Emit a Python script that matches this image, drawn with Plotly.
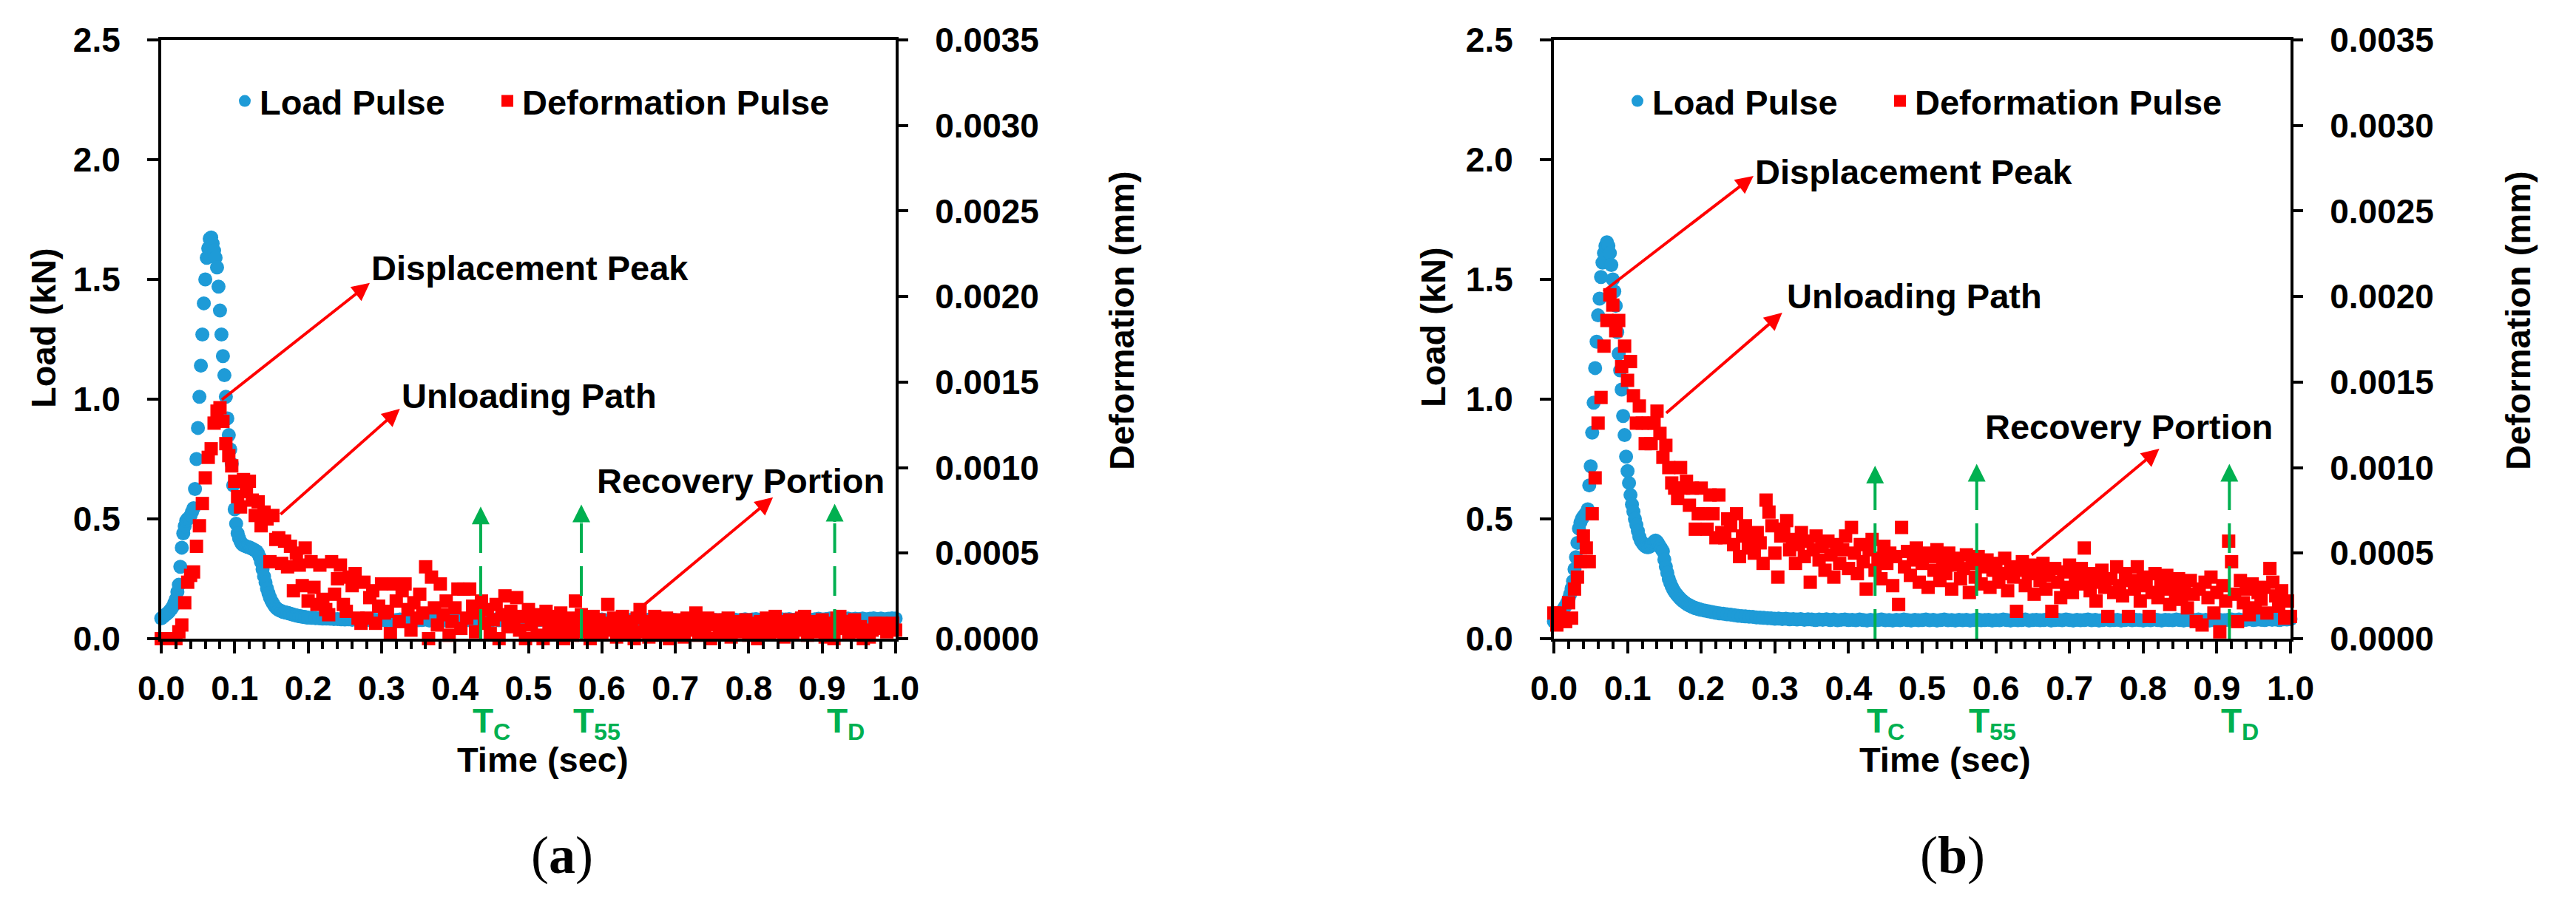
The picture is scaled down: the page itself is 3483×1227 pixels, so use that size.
import plotly.graph_objects as go

# ---------------- data ----------------
TIME_LOAD_MS = [
    0, 2, 4, 6, 8, 10, 12, 14, 16, 18, 20, 22, 24, 26, 28, 30, 32, 34, 36, 38,
    40, 42, 44, 46, 48, 50, 52, 54, 56, 58, 60, 62, 64, 66, 68, 70, 72, 74, 76, 78,
    80, 82, 84, 86, 88, 90, 92, 94, 96, 98, 100, 102, 104, 106, 108, 110, 112, 114, 116, 118,
    120, 122, 124, 126, 128, 130, 132, 134, 136, 138, 140, 142, 144, 146, 148, 150, 152, 154, 156, 158,
    160, 162, 164, 166, 168, 170, 172, 174, 176, 178, 180, 182, 184, 186, 188, 190, 192, 194, 196, 198, 200,
    205, 210, 215, 220, 225, 230, 235, 240, 245, 250, 255, 260, 265, 270, 275, 280, 285, 290, 295, 300,
    305, 310, 315, 320, 325, 330, 335, 340, 345, 350, 355, 360, 365, 370, 375, 380, 385, 390, 395, 400,
    405, 410, 415, 420, 425, 430, 435, 440, 445, 450, 455, 460, 465, 470, 475, 480, 485, 490, 495, 500,
    505, 510, 515, 520, 525, 530, 535, 540, 545, 550, 555, 560, 565, 570, 575, 580, 585, 590, 595, 600,
    605, 610, 615, 620, 625, 630, 635, 640, 645, 650, 655, 660, 665, 670, 675, 680, 685, 690, 695, 700,
    705, 710, 715, 720, 725, 730, 735, 740, 745, 750, 755, 760, 765, 770, 775, 780, 785, 790, 795, 800,
    805, 810, 815, 820, 825, 830, 835, 840, 845, 850, 855, 860, 865, 870, 875, 880, 885, 890, 895, 900,
    905, 910, 915, 920, 925, 930, 935, 940, 945, 950, 955, 960, 965, 970, 975, 980, 985, 990, 995, 1000,
]

TIME_DEF_MS = [
    0, 4, 8, 12, 16, 20, 24, 28, 32, 36, 40, 44, 48, 52, 56, 60, 64, 68, 72, 76,
    80, 84, 88, 92, 96, 100, 104, 108, 112, 116, 120, 124, 128, 132, 136, 140, 144, 148, 152, 156,
    160, 164, 168, 172, 176, 180, 184, 188, 192, 196, 200, 204, 208, 212, 216, 220, 224, 228, 232, 236,
    240, 244, 248, 252, 256, 260, 264, 268, 272, 276, 280, 284, 288, 292, 296, 300, 304, 308, 312, 316,
    320, 324, 328, 332, 336, 340, 344, 348, 352, 356, 360, 364, 368, 372, 376, 380, 384, 388, 392, 396,
    400, 404, 408, 412, 416, 420, 424, 428, 432, 436, 440, 444, 448, 452, 456, 460, 464, 468, 472, 476,
    480, 484, 488, 492, 496, 500, 504, 508, 512, 516, 520, 524, 528, 532, 536, 540, 544, 548, 552, 556,
    560, 564, 568, 572, 576, 580, 584, 588, 592, 596, 600, 604, 608, 612, 616, 620, 624, 628, 632, 636,
    640, 644, 648, 652, 656, 660, 664, 668, 672, 676, 680, 684, 688, 692, 696, 700, 704, 708, 712, 716,
    720, 724, 728, 732, 736, 740, 744, 748, 752, 756, 760, 764, 768, 772, 776, 780, 784, 788, 792, 796,
    800, 804, 808, 812, 816, 820, 824, 828, 832, 836, 840, 844, 848, 852, 856, 860, 864, 868, 872, 876,
    880, 884, 888, 892, 896, 900, 904, 908, 912, 916, 920, 924, 928, 932, 936, 940, 944, 948, 952, 956,
    960, 964, 968, 972, 976, 980, 984, 988, 992, 996, 1000,
]

# Load pulse (kN), panel (a)
LOAD_A_KN = [
    0.085, 0.090, 0.095, 0.100, 0.105, 0.110, 0.118, 0.125, 0.135, 0.150,
    0.165, 0.195, 0.225, 0.300, 0.380, 0.440, 0.470, 0.492, 0.500, 0.505,
    0.515, 0.530, 0.545, 0.625, 0.750, 0.880, 1.010, 1.140, 1.270, 1.400,
    1.500, 1.590, 1.630, 1.670, 1.675, 1.650, 1.620, 1.590, 1.550, 1.470,
    1.370, 1.270, 1.180, 1.100, 1.010, 0.920, 0.850, 0.790, 0.730, 0.640,
    0.540, 0.480, 0.440, 0.420, 0.405, 0.395, 0.390, 0.387, 0.385, 0.383,
    0.381, 0.378, 0.375, 0.372, 0.368, 0.364, 0.355, 0.340, 0.320, 0.290,
    0.260, 0.235, 0.210, 0.190, 0.172, 0.158, 0.148, 0.138, 0.130, 0.124,
    0.120, 0.117, 0.115, 0.112, 0.110, 0.109, 0.108, 0.106, 0.104, 0.102,
    0.100, 0.098, 0.097, 0.095, 0.094, 0.093, 0.092, 0.091, 0.090, 0.089,
    0.088,
    0.087, 0.086, 0.085, 0.084, 0.084, 0.083, 0.082, 0.082, 0.081, 0.080,
    0.081, 0.079, 0.080, 0.078, 0.080, 0.079, 0.077, 0.079, 0.078, 0.080,
    0.077, 0.079, 0.076, 0.078, 0.080, 0.077, 0.078, 0.076, 0.079, 0.077,
    0.078, 0.080, 0.076, 0.078, 0.077, 0.079, 0.076, 0.078, 0.080, 0.077,
    0.079, 0.076, 0.078, 0.077, 0.080, 0.078, 0.076, 0.079, 0.077, 0.078,
    0.080, 0.077, 0.079, 0.076, 0.078, 0.079, 0.077, 0.080, 0.078, 0.076,
    0.079, 0.077, 0.078, 0.080, 0.076, 0.078, 0.079, 0.077, 0.080, 0.078,
    0.076, 0.079, 0.077, 0.078, 0.080, 0.077, 0.079, 0.076, 0.078, 0.080,
    0.077, 0.078, 0.079, 0.076, 0.078, 0.080, 0.077, 0.079, 0.078, 0.076,
    0.079, 0.077, 0.080, 0.078, 0.076, 0.079, 0.078, 0.077, 0.080, 0.078,
    0.076, 0.079, 0.077, 0.078, 0.080, 0.077, 0.079, 0.076, 0.078, 0.080,
    0.078, 0.077, 0.079, 0.081, 0.078, 0.080, 0.077, 0.079, 0.081, 0.078,
    0.080, 0.082, 0.079, 0.081, 0.078, 0.080, 0.082, 0.079, 0.081, 0.080,
    0.082, 0.079, 0.081, 0.083, 0.080, 0.082, 0.079, 0.081, 0.083, 0.080,
    0.082, 0.084, 0.081, 0.083, 0.080, 0.082, 0.084, 0.081, 0.083, 0.082,
    0.084, 0.081, 0.083, 0.085, 0.082, 0.084, 0.081, 0.083, 0.085, 0.084,
]

# Load pulse (kN), panel (b)
LOAD_B_KN = [
    0.072, 0.080, 0.088, 0.095, 0.102, 0.110, 0.118, 0.128, 0.138, 0.150,
    0.165, 0.185, 0.210, 0.240, 0.290, 0.340, 0.400, 0.460, 0.485, 0.500,
    0.510, 0.518, 0.525, 0.540, 0.640, 0.720, 0.860, 0.985, 1.130, 1.240,
    1.350, 1.420, 1.510, 1.570, 1.610, 1.640, 1.655, 1.640, 1.610, 1.560,
    1.500, 1.450, 1.390, 1.280, 1.190, 1.120, 1.040, 0.930, 0.850, 0.760,
    0.700, 0.650, 0.600, 0.560, 0.530, 0.500, 0.475, 0.450, 0.425, 0.410,
    0.400, 0.392, 0.386, 0.383, 0.382, 0.384, 0.390, 0.398, 0.405, 0.410,
    0.405, 0.395, 0.385, 0.375, 0.365, 0.330, 0.300, 0.275, 0.250, 0.232,
    0.218, 0.205, 0.195, 0.187, 0.180, 0.172, 0.166, 0.160, 0.155, 0.150,
    0.146, 0.142, 0.139, 0.136, 0.133, 0.130, 0.128, 0.126, 0.124, 0.122,
    0.120,
    0.117, 0.114, 0.111, 0.108, 0.106, 0.104, 0.102, 0.100, 0.098, 0.096,
    0.094, 0.093, 0.092, 0.091, 0.089, 0.088, 0.087, 0.086, 0.085, 0.083,
    0.084, 0.082, 0.083, 0.081, 0.082, 0.080, 0.082, 0.079, 0.081, 0.080,
    0.078, 0.080, 0.079, 0.081, 0.078, 0.080, 0.077, 0.079, 0.080, 0.078,
    0.079, 0.077, 0.080, 0.078, 0.076, 0.079, 0.077, 0.078, 0.080, 0.077,
    0.078, 0.076, 0.079, 0.077, 0.080, 0.078, 0.076, 0.079, 0.077, 0.078,
    0.080, 0.077, 0.079, 0.076, 0.078, 0.080, 0.077, 0.078, 0.076, 0.079,
    0.077, 0.079, 0.076, 0.078, 0.080, 0.077, 0.078, 0.079, 0.076, 0.078,
    0.077, 0.080, 0.078, 0.076, 0.079, 0.077, 0.078, 0.080, 0.076, 0.078,
    0.079, 0.077, 0.078, 0.080, 0.076, 0.078, 0.079, 0.077, 0.080, 0.078,
    0.076, 0.079, 0.077, 0.078, 0.080, 0.077, 0.079, 0.076, 0.078, 0.080,
    0.077, 0.078, 0.079, 0.076, 0.078, 0.080, 0.077, 0.079, 0.078, 0.076,
    0.079, 0.077, 0.080, 0.078, 0.076, 0.079, 0.078, 0.077, 0.080, 0.078,
    0.076, 0.079, 0.077, 0.078, 0.080, 0.077, 0.079, 0.076, 0.078, 0.080,
    0.078, 0.077, 0.079, 0.080, 0.078, 0.080, 0.077, 0.079, 0.081, 0.078,
    0.080, 0.079, 0.078, 0.081, 0.079, 0.080, 0.078, 0.081, 0.080, 0.082,
]

# Deformation pulse (micrometres), panel (a)
DEF_A_UM = [
    0.00, 0.00, 0.00, 0.00, 0.00, 0.00, 0.04, 0.08, 0.21, 0.33,
    0.37, 0.39, 0.54, 0.66, 0.79, 0.94, 1.06, 1.11, 1.26, 1.33,
    1.35, 1.27, 1.14, 1.07, 1.01, 0.92, 0.83, 0.77, 0.93, 0.86,
    0.92, 0.81, 0.72, 0.80, 0.66, 0.74, 0.70, 0.45, 0.72, 0.58,
    0.59, 0.44, 0.57, 0.42, 0.54, 0.28, 0.50, 0.43, 0.31, 0.53,
    0.22, 0.45, 0.30, 0.20, 0.43, 0.23, 0.17, 0.14, 0.45, 0.26,
    0.35, 0.43, 0.20, 0.16, 0.36, 0.31, 0.38, 0.12, 0.09, 0.33,
    0.12, 0.24, 0.28, 0.09, 0.19, 0.32, 0.15, 0.16, 0.03, 0.32,
    0.22, 0.10, 0.28, 0.32, 0.17, 0.05, 0.21, 0.12, 0.26, 0.15,
    0.42, 0.00, 0.36, 0.18, 0.08, 0.32, 0.14, 0.22, 0.02, 0.10,
    0.18, 0.29, 0.06, 0.29, 0.12, 0.29, 0.19, 0.04, 0.15, 0.22,
    0.09, 0.17, 0.03, 0.11, 0.20, 0.00, 0.14, 0.25, 0.07, 0.16,
    0.10, 0.24, 0.05, 0.13, 0.00, 0.17, 0.08, 0.14, 0.02, 0.11,
    0.00, 0.16, 0.07, 0.13, 0.03, 0.09, 0.15, 0.00, 0.06, 0.12,
    0.02, 0.22, 0.08, 0.14, 0.04, 0.10, 0.00, 0.13, 0.06, 0.11,
    0.03, 0.09, 0.20, 0.05, 0.12, 0.01, 0.08, 0.13, 0.03, 0.10,
    0.06, 0.00, 0.12, 0.17, 0.04, 0.10, 0.01, 0.08, 0.13, 0.02,
    0.09, 0.06, 0.12, 0.00, 0.07, 0.11, 0.03, 0.09, 0.01, 0.12,
    0.05, 0.08, 0.15, 0.02, 0.10, 0.06, 0.12, 0.00, 0.08, 0.11,
    0.03, 0.09, 0.05, 0.12, 0.01, 0.07, 0.10, 0.04, 0.08, 0.11,
    0.02, 0.09, 0.06, 0.00, 0.10, 0.05, 0.12, 0.03, 0.08, 0.13,
    0.04, 0.10, 0.01, 0.07, 0.11, 0.03, 0.09, 0.05, 0.12, 0.13,
    0.02, 0.08, 0.10, 0.04, 0.07, 0.11, 0.01, 0.09, 0.05, 0.00,
    0.12, 0.13, 0.06, 0.10, 0.03, 0.08, 0.11, 0.04, 0.07, 0.00,
    0.02, 0.01, 0.05, 0.09, 0.06, 0.09, 0.08, 0.04, 0.07, 0.09,
    0.05,
]

# Deformation pulse (micrometres), panel (b)
DEF_B_UM = [
    0.15, 0.08, 0.15, 0.12, 0.10, 0.21, 0.12, 0.29, 0.36, 0.45,
    0.60, 0.53, 0.45, 0.73, 0.94, 1.26, 1.41, 1.71, 1.86, 2.01,
    1.95, 1.80, 1.86, 1.59, 1.71, 1.51, 1.62, 1.42, 1.26, 1.36,
    1.26, 1.14, 1.26, 1.14, 1.26, 1.33, 1.20, 1.06, 1.13, 1.00,
    0.91, 0.88, 0.82, 1.00, 0.88, 0.92, 0.78, 0.88, 0.64, 0.73,
    0.88, 0.73, 0.64, 0.84, 0.73, 0.59, 0.84, 0.62, 0.59, 0.70,
    0.66, 0.55, 0.73, 0.48, 0.60, 0.66, 0.53, 0.60, 0.50, 0.62,
    0.56, 0.44, 0.81, 0.74, 0.66, 0.50, 0.36, 0.60, 0.64, 0.69,
    0.52, 0.58, 0.44, 0.55, 0.62, 0.48, 0.57, 0.33, 0.52, 0.60,
    0.46, 0.54, 0.40, 0.57, 0.49, 0.36, 0.55, 0.44, 0.52, 0.60,
    0.41, 0.65, 0.50, 0.38, 0.55, 0.45, 0.29, 0.52, 0.58, 0.40,
    0.47, 0.35, 0.54, 0.44, 0.50, 0.31, 0.48, 0.20, 0.65, 0.42,
    0.51, 0.37, 0.46, 0.53, 0.33, 0.44, 0.50, 0.30, 0.48, 0.40,
    0.52, 0.34, 0.45, 0.38, 0.50, 0.29, 0.43, 0.47, 0.35, 0.41,
    0.49, 0.27, 0.44, 0.36, 0.48, 0.32, 0.42, 0.46, 0.30, 0.40,
    0.44, 0.33, 0.38, 0.47, 0.28, 0.42, 0.36, 0.16, 0.40, 0.45,
    0.31, 0.38, 0.43, 0.26, 0.39, 0.34, 0.44, 0.29, 0.37, 0.16,
    0.41, 0.33, 0.24, 0.39, 0.30, 0.43, 0.27, 0.36, 0.32, 0.41,
    0.53, 0.35, 0.28, 0.38, 0.22, 0.33, 0.40, 0.30, 0.13, 0.35,
    0.27, 0.42, 0.31, 0.25, 0.38, 0.13, 0.34, 0.29, 0.42, 0.22,
    0.36, 0.31, 0.13, 0.27, 0.38, 0.24, 0.33, 0.29, 0.37, 0.20,
    0.31, 0.27, 0.35, 0.23, 0.30, 0.18, 0.34, 0.26, 0.10, 0.29,
    0.08, 0.33, 0.24, 0.36, 0.15, 0.27, 0.04, 0.31, 0.22, 0.57,
    0.45, 0.26, 0.10, 0.34, 0.21, 0.29, 0.14, 0.32, 0.18, 0.27,
    0.23, 0.30, 0.15, 0.41, 0.33, 0.25, 0.19, 0.28, 0.12, 0.22,
    0.13,
]

X_TICKS = [0.0, 0.1, 0.2, 0.3, 0.4, 0.5, 0.6, 0.7, 0.8, 0.9, 1.0]
LOAD_TICKS = [0.0, 0.5, 1.0, 1.5, 2.0, 2.5]
DEF_TICKS = [0.0, 0.0005, 0.0010, 0.0015, 0.0020, 0.0025, 0.0030, 0.0035]

# Marker times (s) and arrow-tip heights (kN) for T_C, T_55, T_D
T_MARK_LABELS = ["T<sub>C</sub>", "T<sub>55</sub>", "T<sub>D</sub>"]
T_MARK_TIMES_A = [0.435, 0.572, 0.917]
T_MARK_TIPS_A = [0.552, 0.560, 0.563]
T_MARK_TIMES_B = [0.436, 0.574, 0.917]
T_MARK_TIPS_B = [0.722, 0.730, 0.730]

# Callouts: text, text anchor (t, load), arrow head (t, load), arrow tail (t, load)
CALLOUTS_A = [
    ("Displacement Peak", (0.284, 1.549), (0.284, 1.485), (0.081, 0.994)),
    ("Unloading Path", (0.325, 1.015), (0.325, 0.960), (0.161, 0.515)),
    ("Recovery Portion", (0.591, 0.660), (0.833, 0.590), (0.653, 0.130)),
]
CALLOUTS_B = [
    ("Displacement Peak", (0.271, 1.950), (0.271, 1.932), (0.066, 1.447)),
    ("Unloading Path", (0.314, 1.432), (0.310, 1.361), (0.151, 0.938)),
    ("Recovery Portion", (0.581, 0.883), (0.822, 0.793), (0.647, 0.346)),
]

# ---------------- styling ----------------
W, H = 3483, 1227
FONT = "Liberation Sans, Arial, sans-serif"
BLUE = "#1E9BD7"
RED = "#FF0000"
GREEN = "#00B050"
FS = 46

t_load = [v / 1000 for v in TIME_LOAD_MS]
t_def = [v / 1000 for v in TIME_DEF_MS]
def_a_mm = [v / 1000 for v in DEF_A_UM]
def_b_mm = [v / 1000 for v in DEF_B_UM]

fig = go.Figure()

panels = [
    dict(x="x", y="y", y2="y2", load=LOAD_A_KN, dfm=def_a_mm, legend="legend"),
    dict(x="x2", y="y3", y2="y4", load=LOAD_B_KN, dfm=def_b_mm, legend="legend2"),
]
for p in panels:
    fig.add_trace(go.Scatter(
        x=t_load, y=p["load"], xaxis=p["x"], yaxis=p["y"], mode="markers",
        name="Load Pulse", legend=p["legend"], cliponaxis=False, legendwidth=310,
        marker=dict(symbol="circle", size=19, color=BLUE, line=dict(width=0)),
    ))
    fig.add_trace(go.Scatter(
        x=t_def, y=p["dfm"], xaxis=p["x"], yaxis=p["y2"], mode="markers",
        name="Deformation Pulse", legend=p["legend"], cliponaxis=False,
        marker=dict(symbol="square", size=18, color=RED, line=dict(width=0)),
    ))

tickfont = dict(family=FONT, size=FS, color="black", weight="bold")
common = dict(showline=True, linecolor="black", linewidth=4, ticks="outside",
              tickcolor="black", tickwidth=4, showgrid=False, zeroline=False,
              tickfont=tickfont, fixedrange=True, automargin=False)

dom_y = [1 - 864 / H, 1 - 54 / H]
dom_a = [218 / W, 1211 / W]
dom_b = [2101 / W, 3097 / W]


def xax(dom, anchor):
    return dict(domain=dom, anchor=anchor, range=[0, 1], tickvals=X_TICKS,
                tickformat=".1f", ticklen=16, mirror=True, ticklabelstandoff=8,
                minor=dict(dtick=0.02, tick0=0, ticklen=10, tickwidth=4,
                           ticks="outside", tickcolor="black"), **common)


def yleft(anchor):
    return dict(domain=dom_y, anchor=anchor, range=[0, 2.5], tickvals=LOAD_TICKS,
                tickformat=".1f", ticklen=15, ticklabelstandoff=27, **common)


def yright(anchor, over):
    return dict(domain=dom_y, anchor=anchor, overlaying=over, side="right",
                range=[0, 0.0035], tickvals=DEF_TICKS, tickformat=".4f",
                ticklen=13, ticklabelstandoff=27, **common)


legfont = dict(family=FONT, size=47, color="black", weight="bold")
fig.update_layout(
    width=W, height=H, margin=dict(l=0, r=0, t=0, b=0, autoexpand=False),
    paper_bgcolor="white", plot_bgcolor="white",
    xaxis=xax(dom_a, "y"), yaxis=yleft("x"), yaxis2=yright("x", "y"),
    xaxis2=xax(dom_b, "y3"), yaxis3=yleft("x2"), yaxis4=yright("x2", "y3"),
    legend=dict(orientation="h", x=311 / W, xanchor="left", y=1 - 137 / H,
                yanchor="middle", font=legfont, bgcolor="rgba(0,0,0,0)",
                itemsizing="trace"),
    legend2=dict(orientation="h", x=2194 / W, xanchor="left", y=1 - 137 / H,
                 yanchor="middle", font=legfont, bgcolor="rgba(0,0,0,0)",
                 itemsizing="trace"),
)

ann = []
shapes = []
titlefont = dict(family=FONT, size=47, color="black", weight="bold")


def paper_text(text, px, py, angle=0, font=titlefont):
    ann.append(dict(text=text, x=px / W, y=1 - py / H, xref="paper", yref="paper",
                    xanchor="center", yanchor="middle", showarrow=False,
                    textangle=angle, font=font))


# axis titles and panel captions
paper_text("Load (kN)", 59, 443, -90)
paper_text("Deformation (mm)", 1517, 434, -90)
paper_text("Time (sec)", 734, 1027)
paper_text("Load (kN)", 1938, 443, -90)
paper_text("Deformation (mm)", 3405, 434, -90)
paper_text("Time (sec)", 2630, 1027)
capfont = dict(family="Liberation Serif, Times New Roman, serif", size=72, color="black")
paper_text("(<b>a</b>)", 760, 1157, 0, capfont)
paper_text("(<b>b</b>)", 2640, 1157, 0, capfont)

for xr, yr, callouts, times, tips in [
    ("x", "y", CALLOUTS_A, T_MARK_TIMES_A, T_MARK_TIPS_A),
    ("x2", "y3", CALLOUTS_B, T_MARK_TIMES_B, T_MARK_TIPS_B),
]:
    for text, (tx, ty), (hx, hy), (sx, sy) in callouts:
        right = text == "Recovery Portion" and xr == "x2"
        ann.append(dict(text=text, x=tx if not right else 0.978, y=ty, xref=xr, yref=yr,
                        xanchor="right" if right else "left", yanchor="middle",
                        showarrow=False, font=titlefont))
        ann.append(dict(text="", x=hx, y=hy, ax=sx, ay=sy, xref=xr, yref=yr,
                        axref=xr, ayref=yr, showarrow=True, arrowhead=2,
                        arrowsize=1.2, arrowwidth=4, arrowcolor=RED))
    for lab, tt, tip in zip(T_MARK_LABELS, times, tips):
        shapes.append(dict(type="line", xref=xr, yref=yr, x0=tt, x1=tt, y0=0,
                           y1=tip - 0.06, line=dict(color=GREEN, width=4, dash="40px,18px")))
        ann.append(dict(text="", x=tt, y=tip, xref=xr, yref=yr, ax=0, ay=26,
                        axref="pixel", ayref="pixel", showarrow=True, arrowhead=2,
                        arrowsize=1.2, arrowwidth=4, arrowcolor=GREEN))
        ann.append(dict(text=lab, x=tt - 0.012, y=1 - 948 / H, xref=xr, yref="paper",
                        xanchor="left", yanchor="top", showarrow=False, borderpad=0,
                        font=dict(family=FONT, size=46, color=GREEN, weight="bold")))

fig.update_layout(annotations=ann, shapes=shapes)
fig.write_html("out.html", config={"displayModeBar": False},
               post_script="document.body.style.margin='0';")
